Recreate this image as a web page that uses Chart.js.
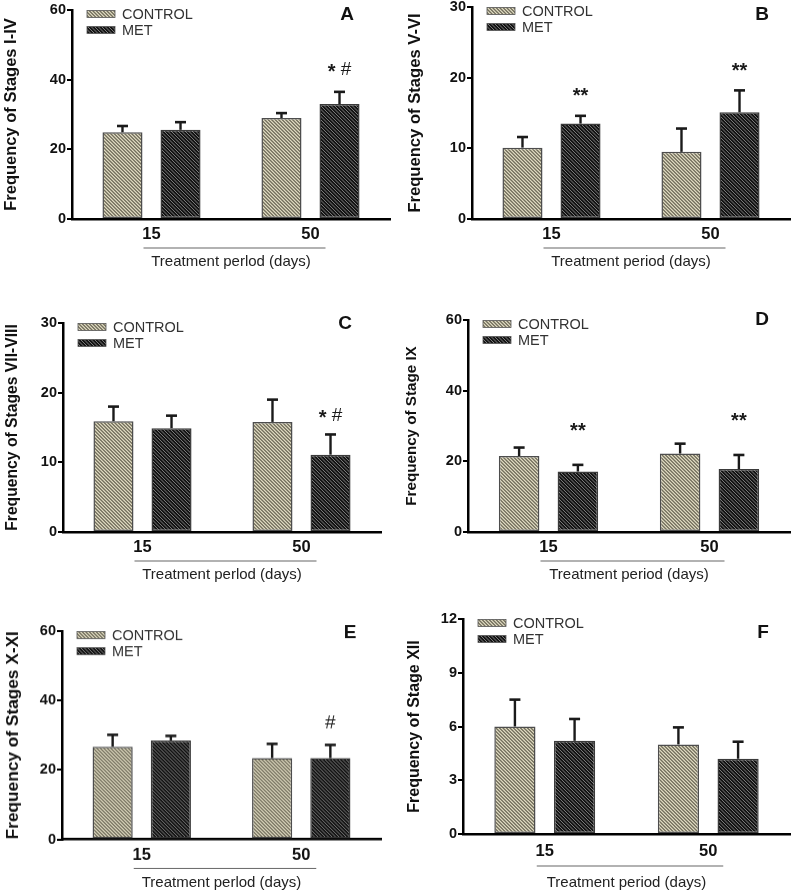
<!DOCTYPE html>
<html><head><meta charset="utf-8">
<script src="https://cdn.jsdelivr.net/npm/chart.js@4.4.1/dist/chart.umd.min.js"></script>
<style>
html,body{margin:0;padding:0;background:#fff;width:793px;height:895px;overflow:hidden;position:relative;}
canvas{position:absolute;}
</style></head><body>
<script>
// ---------- DATA ----------
const categories = ['15', '50'];
const seriesNames = ['CONTROL', 'MET'];
const xTitleL = 'Treatment perlod (days)';
const xTitleR = 'Treatment period (days)';

const A_control = [24.9, 29.0];  const A_controlErr = [1.8, 1.4];
const A_met     = [25.6, 33.0];  const A_metErr     = [2.2, 3.5];
const A_notes   = ['', '* #'];

const B_control = [10.1, 9.5];   const B_controlErr = [1.5, 3.3];
const B_met     = [13.5, 15.1];  const B_metErr     = [1.1, 3.1];
const B_notes   = ['**', '**'];

const C_control = [15.9, 15.8];  const C_controlErr = [2.1, 3.2];
const C_met     = [14.9, 11.1];  const C_metErr     = [1.8, 2.9];
const C_notes   = ['', '* #'];

const D_control = [21.5, 22.2];  const D_controlErr = [2.4, 2.8];
const D_met     = [17.1, 17.8];  const D_metErr     = [1.9, 4.0];
const D_notes   = ['**', '**'];

const E_control = [26.7, 23.4];  const E_controlErr = [3.4, 4.1];
const E_met     = [28.5, 23.4];  const E_metErr     = [1.3, 3.8];
const E_notes   = ['', '#'];

const F_control = [6.0, 5.0];    const F_controlErr = [1.5, 0.95];
const F_met     = [5.2, 4.2];    const F_metErr     = [1.22, 0.95];
const F_notes   = ['', ''];

const yTicksA = [0, 20, 40, 60];
const yTicksB = [0, 10, 20, 30];
const yTicksC = [0, 10, 20, 30];
const yTicksD = [0, 20, 40, 60];
const yTicksE = [0, 20, 40, 60];
const yTicksF = [0, 3, 6, 9, 12];

// ---------- STYLE ----------
const FONT = "'Liberation Sans', Arial, Helvetica, sans-serif";

function makePattern(bg, fg, lw) {
  const s = 7;
  const c = document.createElement('canvas');
  c.width = s; c.height = s;
  const g = c.getContext('2d');
  g.fillStyle = bg; g.fillRect(0, 0, s, s);
  g.strokeStyle = fg; g.lineWidth = lw;
  g.beginPath();
  for (const k of [-s, -s / 2, 0, s / 2, s]) { g.moveTo(-1, k - 1); g.lineTo(s + 1, k + s + 1); }
  g.stroke();
  return g.createPattern(c, 'repeat');
}
const ctrlPattern = makePattern('#ebe6cc', '#726e5c', 1.4);
const metPattern = makePattern('#141414', '#7a7a7a', 1.0);

const panels = [
  { letter: 'A', control: A_control, controlErr: A_controlErr, met: A_met, metErr: A_metErr, notes: A_notes,
    yTicks: yTicksA, yTitle: 'Frequency of Stages I-IV', xTitle: xTitleL,
    geo: { L0: 0, left: 72, top: 10, bottom: 219, right: 390, titleOff: 43, tickPad: 6, underline: 29,
           letterDx: -43, letterDy: 5, yTitlePad: 2, yTitleSize: 16.5, noteGap: 22 } },
  { letter: 'B', control: B_control, controlErr: B_controlErr, met: B_met, metErr: B_metErr, notes: B_notes,
    yTicks: yTicksB, yTitle: 'Frequency of Stages V-VI', xTitle: xTitleR,
    geo: { L0: 400, left: 472, top: 7, bottom: 219, right: 790, titleOff: 43, tickPad: 6, underline: 29,
           letterDx: -28, letterDy: 8, yTitlePad: 5, yTitleSize: 16.6, noteGap: 22 } },
  { letter: 'C', control: C_control, controlErr: C_controlErr, met: C_met, metErr: C_metErr, notes: C_notes,
    yTicks: yTicksC, yTitle: 'Frequency of Stages VII-VIII', xTitle: xTitleL,
    geo: { L0: 0, left: 63, top: 323, bottom: 532, right: 381, titleOff: 43, tickPad: 6, underline: 29,
           letterDx: -36, letterDy: 1, yTitlePad: 3, yTitleSize: 15.7, noteGap: 19 } },
  { letter: 'D', control: D_control, controlErr: D_controlErr, met: D_met, metErr: D_metErr, notes: D_notes,
    yTicks: yTicksD, yTitle: 'Frequency of Stage IX', xTitle: xTitleR,
    geo: { L0: 400, left: 468, top: 320, bottom: 532, right: 790, titleOff: 43, tickPad: 6, underline: 29,
           letterDx: -28, letterDy: 0, yTitlePad: 3, yTitleSize: 15.2, noteGap: 36 } },
  { letter: 'E', control: E_control, controlErr: E_controlErr, met: E_met, metErr: E_metErr, notes: E_notes,
    yTicks: yTicksE, yTitle: 'Frequency of Stages X-XI', xTitle: xTitleL,
    geo: { L0: 0, left: 62, top: 631, bottom: 839, right: 381, titleOff: 43.5, tickPad: 6, underline: 29,
           letterDx: -31, letterDy: 2, yTitlePad: 3, yTitleSize: 17.2, noteGap: 22 } },
  { letter: 'F', control: F_control, controlErr: F_controlErr, met: F_met, metErr: F_metErr, notes: F_notes,
    yTicks: yTicksF, yTitle: 'Frequency of Stage XII', xTitle: xTitleR,
    geo: { L0: 400, left: 463, top: 619, bottom: 834, right: 790, titleOff: 49, tickPad: 8, underline: 32,
           letterDx: -27, letterDy: 14, yTitlePad: 5, yTitleSize: 16, noteGap: 22 } },
];

// draws a note like "* #" centred at (cx, cy); stars bold and lowered to mid-height
function drawNote(ctx, text, cx, cy) {
  const starFont = 'bold 20px ' + FONT;
  const otherFont = '19px ' + FONT;
  const parts = text.split('');
  let total = 0;
  const widths = parts.map(ch => {
    ctx.font = ch === '*' ? starFont : otherFont;
    const w = ctx.measureText(ch).width;
    total += w;
    return w;
  });
  let x = cx - total / 2;
  ctx.textAlign = 'left';
  ctx.textBaseline = 'middle';
  parts.forEach((ch, i) => {
    ctx.font = ch === '*' ? starFont : otherFont;
    ctx.fillText(ch, x, ch === '*' ? cy + 3 : cy);
    x += widths[i];
  });
}

function makeDecor(p) {
  return {
    id: 'decor' + p.letter,
    afterDatasetsDraw(chart) {
      const ctx = chart.ctx;
      const ys = chart.scales.y;
      const errs = [p.controlErr, p.metErr];
      const vals = [p.control, p.met];
      ctx.save();
      for (let d = 0; d < 2; d++) {
        const meta = chart.getDatasetMeta(d);
        meta.data.forEach((el, i) => {
          const yTop = ys.getPixelForValue(vals[d][i] + errs[d][i]);
          ctx.strokeStyle = '#1a1a1a';
          ctx.lineWidth = 2.4;
          ctx.beginPath();
          ctx.moveTo(el.x, el.y);
          ctx.lineTo(el.x, yTop);
          ctx.stroke();
          ctx.lineWidth = 2.6;
          ctx.beginPath();
          ctx.moveTo(el.x - 5.5, yTop);
          ctx.lineTo(el.x + 5.5, yTop);
          ctx.stroke();
        });
      }
      const metMeta = chart.getDatasetMeta(1);
      ctx.fillStyle = '#1a1a1a';
      metMeta.data.forEach((el, i) => {
        const t = p.notes[i];
        if (!t) return;
        const yTop = ys.getPixelForValue(p.met[i] + p.metErr[i]);
        drawNote(ctx, t, el.x, yTop - p.geo.noteGap);
      });
      ctx.restore();
    },
    afterDraw(chart) {
      const g = p.geo;
      const ctx = chart.ctx;
      const area = chart.chartArea;
      const xs = chart.scales.x;
      ctx.save();
      const pats = [ctrlPattern, metPattern];
      seriesNames.forEach((name, i) => {
        const cy = area.top + 4 + i * 16;
        ctx.fillStyle = pats[i];
        ctx.fillRect(area.left + 15, cy - 3.5, 28, 7);
        ctx.strokeStyle = '#555';
        ctx.lineWidth = 0.8;
        ctx.strokeRect(area.left + 15, cy - 3.5, 28, 7);
        ctx.fillStyle = '#333';
        ctx.font = '14.5px ' + FONT;
        ctx.textAlign = 'left';
        ctx.textBaseline = 'middle';
        ctx.fillText(name, area.left + 50, cy + 0.5);
      });
      ctx.fillStyle = '#111';
      ctx.font = 'bold 19px ' + FONT;
      ctx.textAlign = 'center';
      ctx.textBaseline = 'middle';
      ctx.fillText(p.letter, area.right + g.letterDx, area.top + g.letterDy);
      const c1 = xs.getPixelForValue(0), c2 = xs.getPixelForValue(1);
      ctx.strokeStyle = '#666';
      ctx.lineWidth = 1.2;
      ctx.beginPath();
      ctx.moveTo(c1 - 8, area.bottom + g.underline);
      ctx.lineTo(c2 + 15, area.bottom + g.underline);
      ctx.stroke();
      ctx.restore();
    }
  };
}

panels.forEach((p) => {
  const g = p.geo;
  const cTop = g.top - 15;
  const xh = g.titleOff + 9;
  const W = g.right + 5 - g.L0;
  const H = g.bottom + xh - cTop;
  const cv = document.createElement('canvas');
  cv.width = W; cv.height = H;
  cv.style.left = g.L0 + 'px';
  cv.style.top = cTop + 'px';
  cv.style.width = W + 'px';
  cv.style.height = H + 'px';
  document.body.appendChild(cv);

  new Chart(cv, {
    type: 'bar',
    data: {
      labels: categories,
      datasets: [
        { label: seriesNames[0], data: p.control, backgroundColor: ctrlPattern, borderColor: '#4d4d4d',
          borderWidth: 1.5, borderSkipped: false, categoryPercentage: 0.73, barPercentage: 0.69 },
        { label: seriesNames[1], data: p.met, backgroundColor: metPattern, borderColor: '#3a3a3a',
          borderWidth: 1.5, borderSkipped: false, categoryPercentage: 0.73, barPercentage: 0.69 }
      ]
    },
    options: {
      responsive: false,
      animation: false,
      devicePixelRatio: 1,
      layout: { padding: { top: 15, right: 5, bottom: 0, left: 0 } },
      plugins: { legend: { display: false }, tooltip: { enabled: false } },
      scales: {
        x: {
          grid: { display: false, drawTicks: false },
          border: { display: true, color: '#000', width: 2.5 },
          ticks: { color: '#111', font: { family: FONT, size: 16.5, weight: 'bold' }, padding: g.tickPad, maxRotation: 0 },
          title: { display: true, text: p.xTitle, color: '#222', font: { family: FONT, size: 15 }, padding: { top: 0, bottom: 0 } },
          afterFit: (s) => { s.height = xh; }
        },
        y: {
          min: p.yTicks[0], max: p.yTicks[p.yTicks.length - 1],
          afterBuildTicks: (s) => { s.ticks = p.yTicks.map(v => ({ value: v })); },
          grid: { display: true, drawOnChartArea: false, drawTicks: true, tickLength: 5, color: '#000', lineWidth: 2 },
          border: { display: true, color: '#000', width: 2.5 },
          ticks: { color: '#111', font: { family: FONT, size: 14.5, weight: 'bold' }, padding: 1 },
          title: { display: true, text: p.yTitle, color: '#111', font: { family: FONT, size: g.yTitleSize, weight: 'bold' },
                   padding: { top: g.yTitlePad, bottom: 0 } },
          afterFit: (s) => { s.width = g.left - g.L0; }
        }
      }
    },
    plugins: [makeDecor(p)]
  });
});
</script>
</body></html>
